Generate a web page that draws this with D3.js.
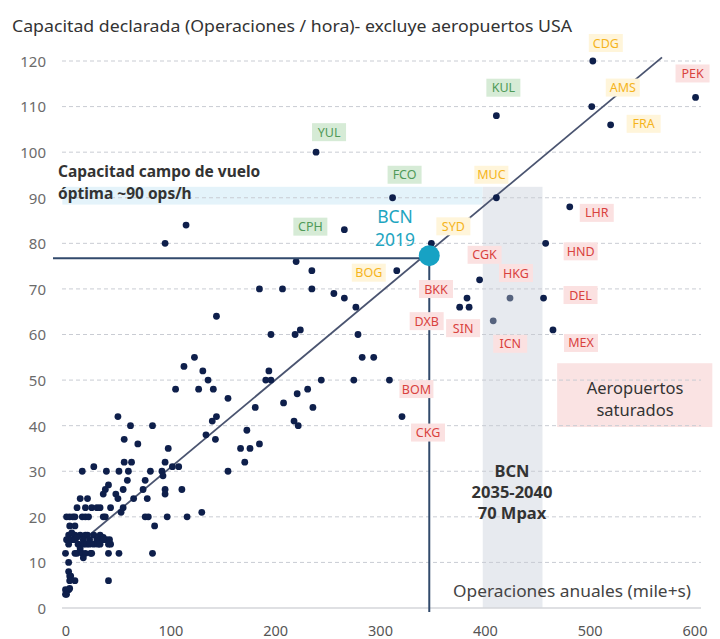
<!DOCTYPE html>
<html lang="es">
<head>
<meta charset="UTF-8">
<title>Capacitad declarada</title>
<script src="https://cdn.jsdelivr.net/npm/d3@7"></script>
<style>
  body { margin: 0; background: #fff; }
  text { font-family: "Noto Sans", "Open Sans", sans-serif; }
</style>
</head>
<body>
<svg id="chart" width="720" height="639"></svg>
<script>
// ---- data ----
var xTicks = [0, 100, 200, 300, 400, 500, 600];
var yTicks = [0, 10, 20, 30, 40, 50, 60, 70, 80, 90, 100, 110, 120];

// labelled airports
var codes  = ["CDG","PEK","AMS","KUL","FRA","YUL","FCO","MUC","LHR","HND","CPH","SYD","BOG","CGK","HKG","DEL","BKK","DXB","SIN","ICN","MEX","BOM","CKG"];
var codeOps = [503, 601, 502, 411, 520, 239, 312, 411, 481, 458, 266, 349, 316, 395, 424, 456, 383, 376, 385, 408, 465, 309, 321];
var codeCap = [120, 112, 110, 108, 106, 100, 90, 90, 88, 80, 83, 80, 74, 72, 68, 68, 68, 66, 66, 63, 61, 50, 42];
var codeGroup = ["y","r","y","g","y","g","g","y","r","r","g","y","y","r","r","r","r","r","r","r","r","r","r"];

// other airports (miles de operaciones, operaciones/hora)
var otherOps = [95,115,220,235,185,207,235,256,266,277,144,196,219,224,279,283,294,123,113,131,136,194,191,196,244,275,105,127,141,155,221,231,181,208,236,218,222,
  50,62,83,144,140,173,134,143,56,69,98,167,176,185,171,155,56,63,39,51,60,81,92,95,93,102,108,16,27,59,76,74,41,38,55,95,95,111,48,50,65,78,36,130,116,97,76,79,85,83,51,41,41,21,14,
  11,19,25,30,33,43,55,53,
  1,4,7,9,16,19,22,36,38,
  4,9,
  3,6,9,14,19,21,27,33,36,39,
  1,6,9,11,17,23,30,36,42,
  3,12,17,20,23,27,31,33,41,43,
  0,9,11,14,16,19,24,25,
  17,3,3,4,5,9,4,3,4,0,1,0];
var otherCap = [80,84,76,74,70,70,70,69,68,66,64,60,60,61,60,55,55,55,53,52,50,52,50,50,50,50,48,48,48,46,47,48,44,45,44,41,40,
  42,40,40,42,41,39,38,37,37,36,35,35,35,36,32,30,32,32,30,30,30,30,30,32,29,31,31,30,31,28,28,26,27,26,26,26,25,26,25,24,24,24,25,21,20,20,20,20,18,12,12,12,6,24,24,
  22,22,22,22,22,22,22,21,
  20,20,20,20,20,20,20,20,20,
  18,18,
  16,16.5,16,16,16,16,16,16,15.5,15,
  15,15,15,15.5,15,15,15,15,15,
  14,14,14,14,14,14,14,14,14,14,
  12,12,12,13,12,12,12,12,
  11,10,8,7,7,6,6,4,4.3,4,3,3];

var grayPts = ["HKG", "ICN"];

// reference elements
var trendOps = [14, 569];
var trendCap = [14.3, 120.8];
var bcn2019 = { ops: 347, cap: 77.3 };
var optimaBand = { ops: [-3, 398], cap: [88.5, 92.4] };
var futureBand = { ops: [398, 455], cap: [0, 92.4] };
var saturadosBox = { ops: [469, 617], cap: [39.7, 53.7] };

// label offsets in px (relative to point)
var labelOffset = {
  CDG:[13,-18], PEK:[-3,-24], AMS:[31,-19], KUL:[7,-28], FRA:[33,-1], YUL:[13,-20],
  FCO:[12,-23], MUC:[-5,-23], LHR:[27,6], HND:[35,8], CPH:[-34,-3], SYD:[22,-17],
  BOG:[-28,2], CGK:[5,-25], HKG:[6,-25], DEL:[37,-3], BKK:[-31,-9], DXB:[-33,14],
  SIN:[-6,21], ICN:[17,23], MEX:[28,13], BOM:[27,9], CKG:[26,16]
};
var groupColors = {
  g: { bg: "#d6ebd6", fg: "#4f9a58" },
  y: { bg: "#fff5da", fg: "#f5b41c" },
  r: { bg: "#fbe1e1", fg: "#d9423e" }
};

// ---- chart ----
var svg = d3.select("#chart");
var x = d3.scaleLinear().domain([0, 600]).range([65.5, 694.5]);
var y = d3.scaleLinear().domain([0, 120]).range([608, 61]);
var navy = "#0e1f4b";

// bands
svg.append("rect")
  .attr("x", x(optimaBand.ops[0])).attr("width", x(optimaBand.ops[1]) - x(optimaBand.ops[0]))
  .attr("y", y(optimaBand.cap[1])).attr("height", y(optimaBand.cap[0]) - y(optimaBand.cap[1]))
  .attr("fill", "#e4f3fa");
svg.append("rect")
  .attr("x", x(futureBand.ops[0])).attr("width", x(futureBand.ops[1]) - x(futureBand.ops[0]))
  .attr("y", y(futureBand.cap[1])).attr("height", y(futureBand.cap[0]) - y(futureBand.cap[1]))
  .attr("fill", "#e7eaef");
svg.append("rect")
  .attr("x", x(saturadosBox.ops[0])).attr("width", x(saturadosBox.ops[1]) - x(saturadosBox.ops[0]))
  .attr("y", y(saturadosBox.cap[1])).attr("height", y(saturadosBox.cap[0]) - y(saturadosBox.cap[1]))
  .attr("fill", "#fae3e3");

// grid
svg.append("g").selectAll("line")
  .data(yTicks.filter(function (d) { return d > 0; }))
  .enter().append("line")
  .attr("x1", 62).attr("x2", 701)
  .attr("y1", function (d) { return y(d); }).attr("y2", function (d) { return y(d); })
  .attr("stroke", "#c9ccd3").attr("stroke-width", 1).attr("stroke-dasharray", "4,3");
svg.append("line")
  .attr("x1", 62).attr("x2", 701).attr("y1", y(0)).attr("y2", y(0))
  .attr("stroke", "#d4d6da").attr("stroke-width", 1.5);

// axes labels
var yAxis = svg.append("g").attr("transform", "translate(46,0)")
  .call(d3.axisLeft(y).tickValues(yTicks).tickSize(0));
yAxis.select(".domain").remove();
yAxis.selectAll("text").attr("x", 0).attr("dy", "0.36em")
  .attr("fill", "#6b6b6b").style("font-size", "15px").style("font-family", "Noto Sans, sans-serif");

var xAxis = svg.append("g").attr("transform", "translate(0,622)")
  .call(d3.axisBottom(x).tickValues(xTicks).tickSize(0));
xAxis.select(".domain").remove();
xAxis.selectAll("text").attr("y", 4)
  .attr("fill", "#555").style("font-size", "14.5px").style("font-family", "Noto Sans, sans-serif");

// title
svg.append("text").attr("x", 12).attr("y", 32)
  .attr("fill", "#333").style("font-size", "15.5px")
  .attr("textLength", 560).attr("lengthAdjust", "spacingAndGlyphs")
  .text("Capacitad declarada (Operaciones / hora)- excluye aeropuertos USA");

// trend line
svg.append("line")
  .attr("x1", x(trendOps[0])).attr("y1", y(trendCap[0]))
  .attr("x2", x(trendOps[1])).attr("y2", y(trendCap[1]))
  .attr("stroke", "#4a5470").attr("stroke-width", 1.8);

// other points
var others = otherOps.map(function (d, i) { return { ops: d, cap: otherCap[i] }; });
svg.append("g").selectAll("circle")
  .data(others).enter().append("circle")
  .attr("cx", function (d) { return x(d.ops); })
  .attr("cy", function (d) { return y(d.cap); })
  .attr("r", 3.4).attr("fill", navy);

// BCN crosshair
svg.append("line")
  .attr("x1", 53).attr("x2", x(bcn2019.ops))
  .attr("y1", y(bcn2019.cap) + 2.5).attr("y2", y(bcn2019.cap) + 2.5)
  .attr("stroke", "#324a6c").attr("stroke-width", 2);
svg.append("line")
  .attr("x1", x(bcn2019.ops)).attr("x2", x(bcn2019.ops))
  .attr("y1", y(bcn2019.cap)).attr("y2", 612)
  .attr("stroke", "#324a6c").attr("stroke-width", 2);

// labelled points
var named = codes.map(function (c, i) {
  return { code: c, ops: codeOps[i], cap: codeCap[i], g: codeGroup[i] };
});
var lab = svg.append("g").selectAll("g")
  .data(named).enter().append("g")
  .attr("transform", function (d) {
    var o = labelOffset[d.code];
    return "translate(" + (x(d.ops) + o[0]) + "," + (y(d.cap) + o[1]) + ")";
  });
lab.append("rect")
  .attr("x", -17).attr("y", -9).attr("width", 34).attr("height", 18)
  .attr("fill", function (d) { return groupColors[d.g].bg; });
lab.append("text")
  .attr("text-anchor", "middle").attr("dy", "0.36em")
  .attr("fill", function (d) { return groupColors[d.g].fg; })
  .style("font-size", "12.5px")
  .text(function (d) { return d.code; });

svg.append("g").selectAll("circle")
  .data(named).enter().append("circle")
  .attr("cx", function (d) { return x(d.ops); })
  .attr("cy", function (d) { return y(d.cap); })
  .attr("r", 3.4)
  .attr("fill", function (d) { return grayPts.indexOf(d.code) >= 0 ? "#56637e" : navy; });

svg.append("circle")
  .attr("cx", x(bcn2019.ops)).attr("cy", y(bcn2019.cap))
  .attr("r", 10.5).attr("fill", "#17a2c4");

// annotations
function lines(arr, cx, y0, dy, size, color, weight, anchor) {
  arr.forEach(function (t, i) {
    svg.append("text").attr("x", cx).attr("y", y0 + i * dy)
      .attr("text-anchor", anchor || "middle")
      .attr("fill", color).style("font-size", size).style("font-weight", weight || "normal")
      .text(t);
  });
}
lines(["Capacitad campo de vuelo", "óptima ~90 ops/h"], 58, 177, 22, "15.5px", "#333", "bold", "start");
lines(["BCN", "2019"], 395, 223, 23, "17.5px", "#1ea5c0");
lines(["BCN", "2035-2040", "70 Mpax"], 512, 477, 21, "16.5px", "#333", "bold");
lines(["Aeropuertos", "saturados"], 635, 394, 22, "16.5px", "#333");
svg.append("text").attr("x", 453).attr("y", 597)
  .attr("fill", "#444").style("font-size", "16px")
  .attr("textLength", 238).attr("lengthAdjust", "spacingAndGlyphs")
  .text("Operaciones anuales (mile+s)");
</script>
</body>
</html>
